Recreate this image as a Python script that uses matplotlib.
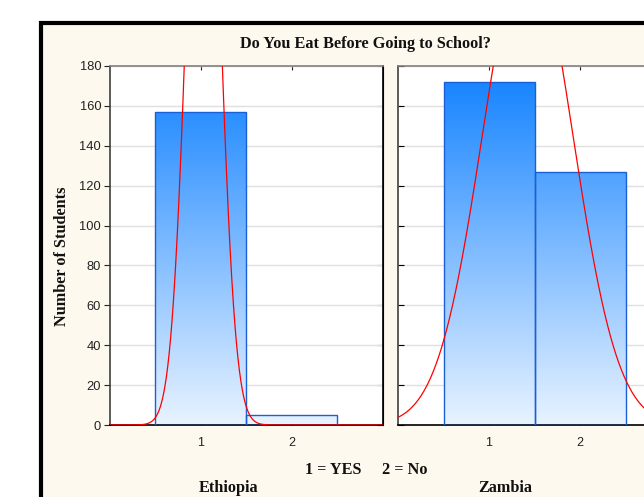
import numpy as np
import matplotlib.pyplot as plt
from matplotlib.patches import Rectangle
from matplotlib.colors import LinearSegmentedColormap

# Answers: 1 = YES, 2 = No
codes = [1, 2]
ethiopia = [157, 5]
zambia = [172, 127]
yticks = [0, 20, 40, 60, 80, 100, 120, 140, 160, 180]

W, H = 644, 497
fig = plt.figure(figsize=(W / 100, H / 100), dpi=100)
fig.patch.set_facecolor('white')

# outer frame (continues past the right/bottom edge, as in the cropped original)
fig.patches.append(Rectangle((41 / W, -0.1), 1.2, 1 - 22.5 / H + 0.1,
                             transform=fig.transFigure, facecolor='#fef9ee',
                             edgecolor='black', linewidth=3, zorder=-10))

cmap = LinearSegmentedColormap.from_list('bar', ['#e8f3ff', '#0f80ff'])
grad = np.linspace(0, 1, 256).reshape(-1, 1)


def normal_fit(values, x):
    # normal curve fitted to the coded answers, scaled to counts
    vals = np.repeat(codes, values)
    m, s = vals.mean(), vals.std(ddof=1)
    return len(vals) / (s * np.sqrt(2 * np.pi)) * np.exp(-0.5 * ((x - m) / s) ** 2)


def panel(rect, counts, left_labels):
    ax = fig.add_axes(rect)
    ax.set_facecolor('white')
    bars = ax.bar(codes, counts, width=1.0, facecolor='none',
                  edgecolor='#1a5fd6', linewidth=1, zorder=3)
    for b in bars:
        im = ax.imshow(grad, extent=[0, 3, 0, 180], origin='lower', cmap=cmap,
                       aspect='auto', zorder=2)
        im.set_clip_path(b)
    x = np.linspace(0, 3, 600)
    ax.plot(x, normal_fit(counts, x), color='red', linewidth=0.9, zorder=4)
    ax.set_xlim(0, 3)
    ax.set_ylim(0, 180)
    ax.set_yticks(yticks)
    ax.set_xticks(codes)
    ax.grid(axis='y', color='#e0e0e0', linewidth=1, zorder=0)
    ax.set_axisbelow(True)
    ax.tick_params(axis='x', direction='in', length=3, top=True, labelsize=9,
                   pad=9, colors='#222222')
    ax.spines['top'].set_color('#808080')
    ax.spines['left'].set_color('#404040')
    ax.spines['bottom'].set_color('black')
    ax.spines['right'].set_color('black')
    for sp in ax.spines.values():
        sp.set_linewidth(1.2)
    if left_labels:
        ax.tick_params(axis='y', direction='out', length=4, labelsize=9.3,
                       colors='#222222', pad=2)
        sec = ax.secondary_yaxis('right')
        sec.set_yticks(yticks)
        sec.tick_params(direction='in', length=4, labelright=False)
    else:
        ax.tick_params(axis='y', direction='in', length=4, labelleft=False)
    for lab in ax.get_xticklabels() + ax.get_yticklabels():
        lab.set_fontfamily('Liberation Sans')
    return ax


bottom = 1 - 425 / H
height = (425 - 66) / H
panel([109.5 / W, bottom, 273 / W, height], ethiopia, True)
panel([398 / W, bottom, 273 / W, height], zambia, False)

serif = dict(family='Liberation Serif', fontweight='bold', color='#111111')
fs = 11.7
fig.text(365 / W, 1 - 44 / H, 'Do You Eat Before Going to School?',
         ha='center', va='center', fontsize=fs, **serif)
fig.text(62 / W, 1 - 256 / H, 'Number of Students', rotation=90,
         ha='center', va='center', fontsize=fs, **serif)
fig.text(366 / W, 1 - 470 / H, '1 = YES     2 = No',
         ha='center', va='center', fontsize=fs, **serif)
fig.text(229 / W, 1 - 488 / H, 'Ethiopia', ha='center', va='center',
         fontsize=fs, **serif)
fig.text(505 / W, 1 - 488 / H, 'Zambia', ha='center', va='center',
         fontsize=fs, **serif)

fig.savefig('out.png', dpi=100)
